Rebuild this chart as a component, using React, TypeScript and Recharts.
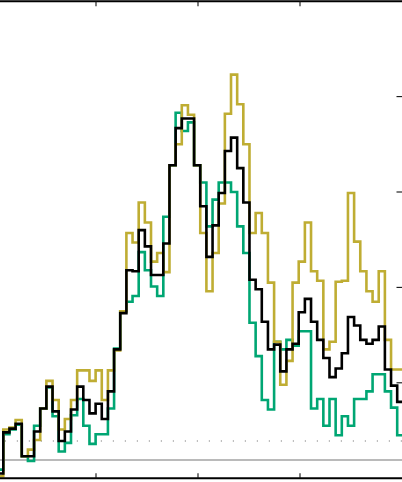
import { ComposedChart, Line, XAxis, YAxis, ReferenceLine } from 'recharts'

const OLIVE = '#BFAD33'
const BLACK = '#000000'
const GREEN = '#00A673'

// bins run left to right, first one starts just before the visible area
const BIN_START = 0.0308
const BIN_WIDTH = 0.06034

const oliveValues = [
  0.02, 0.51, 0.53, 0.61, 0.23, 0.3, 0.4, 0.73, 1.02, 0.82,
  0.51, 0.62, 0.82, 1.13, 1.13, 1.02, 1.13, 0.82, 1.13, 1.34,
  1.75, 2.57, 2.47, 2.89, 2.68, 2.27, 2.36, 2.16, 3.28, 3.5,
  3.91, 3.81, 3.28, 2.57, 1.96, 2.36, 2.88, 3.82, 4.23, 3.92,
  3.5, 2.57, 2.78, 2.57, 2.05, 1.43, 0.98, 1.23, 2.05, 2.27,
  2.68, 2.17, 2.07, 1.35, 1.43, 2.06, 2.07, 2.99, 2.48, 2.17,
  1.96, 1.85, 2.17, 1.45, 1.14, 1.14,
]

const blackValues = [
  0.05, 0.48, 0.52, 0.57, 0.23, 0.23, 0.49, 0.73, 0.96, 0.7,
  0.39, 0.49, 0.72, 0.96, 0.82, 0.68, 0.78, 0.62, 0.91, 1.35,
  1.73, 2.18, 2.17, 2.6, 2.43, 2.13, 2.13, 2.46, 3.28, 3.67,
  3.77, 3.77, 3.28, 2.85, 2.32, 2.65, 2.99, 3.43, 3.57, 3.25,
  2.89, 2.08, 1.98, 1.64, 1.35, 1.4, 1.12, 1.35, 1.41, 1.74,
  1.88, 1.64, 1.45, 1.26, 1.06, 1.15, 1.31, 1.69, 1.6, 1.45,
  1.41, 1.45, 1.59, 1.14, 0.97, 0.8,
]

const greenValues = [
  0.09, 0.46, 0.51, 0.56, 0.23, 0.18, 0.55, 0.73, 0.95, 0.65,
  0.28, 0.37, 0.66, 0.83, 0.55, 0.36, 0.46, 0.46, 0.73, 1.36,
  1.75, 1.85, 1.91, 2.37, 2.18, 2.01, 1.91, 2.74, 3.28, 3.83,
  3.64, 3.73, 3.28, 3.1, 2.64, 2.92, 3.1, 3.1, 3.0, 2.64,
  2.36, 1.63, 1.28, 0.82, 0.72, 1.43, 1.35, 1.45, 1.39, 1.54,
  1.54, 0.73, 0.83, 0.55, 0.83, 0.45, 0.65, 0.55, 0.83, 0.83,
  0.91, 1.09, 1.09, 0.91, 0.74, 0.45,
]

const xTicks = [1, 2, 3]
const yTicks = [1, 2, 3, 4]
const GRAY_LEVEL = 0.19
const DOTTED_LEVEL = 0.39

const last = oliveValues.length - 1
const rows = oliveValues.map((v, i) => ({
  x: BIN_START + i * BIN_WIDTH,
  olive: v,
  black: blackValues[i],
  green: greenValues[i],
}))
// closing edge for the last step
rows.push({
  x: BIN_START + oliveValues.length * BIN_WIDTH,
  olive: oliveValues[last],
  black: blackValues[last],
  green: greenValues[last],
})

const TopTick = (props: any) => (
  <line x1={props.x} x2={props.x} y1={props.y} y2={props.y + 5} stroke="#111" strokeWidth={1.1} />
)
const BottomTick = (props: any) => (
  <line x1={props.x} x2={props.x} y1={props.y} y2={props.y - 5} stroke="#111" strokeWidth={1.1} />
)
const RightTick = (props: any) => (
  <line x1={props.x} x2={props.x - 5.5} y1={props.y} y2={props.y} stroke="#111" strokeWidth={1.1} />
)

export default function App() {
  return (
    <div style={{ position: 'absolute', left: -6, top: 0, width: 409, height: 482 }}>
      <ComposedChart
        width={409}
        height={482}
        data={rows}
        margin={{ top: 0.2, right: 0, bottom: 2.8, left: 0 }}
      >
        <XAxis
          dataKey="x"
          type="number"
          domain={[0, 4]}
          allowDataOverflow
          ticks={xTicks}
          interval={0}
          height={1}
          tickSize={0}
          tickMargin={0}
          tick={BottomTick}
          axisLine={{ stroke: '#000', strokeWidth: 2 }}
          tickLine={false}
        />
        <XAxis
          xAxisId="top"
          orientation="top"
          dataKey="x"
          type="number"
          domain={[0, 4]}
          allowDataOverflow
          ticks={xTicks}
          interval={0}
          height={1}
          tickSize={0}
          tickMargin={0}
          tick={TopTick}
          axisLine={{ stroke: '#000', strokeWidth: 2 }}
          tickLine={false}
        />
        <YAxis
          orientation="right"
          type="number"
          domain={[0, 5]}
          allowDataOverflow
          ticks={yTicks}
          interval={0}
          width={1}
          tickSize={0}
          tickMargin={0}
          tick={RightTick}
          axisLine={false}
          tickLine={false}
        />
        <ReferenceLine y={GRAY_LEVEL} stroke="#a3a3a3" strokeWidth={1.5} />
        <ReferenceLine
          y={DOTTED_LEVEL}
          stroke="#808080"
          strokeWidth={1.2}
          strokeDasharray="1.2 10.8"
        />
        <Line
          type="stepAfter"
          dataKey="green"
          stroke={GREEN}
          strokeWidth={2.6}
          dot={false}
          activeDot={false}
          isAnimationActive={false}
        />
        <Line
          type="stepAfter"
          dataKey="olive"
          stroke={OLIVE}
          strokeWidth={2.6}
          dot={false}
          activeDot={false}
          isAnimationActive={false}
        />
        <Line
          type="stepAfter"
          dataKey="black"
          stroke={BLACK}
          strokeWidth={2.6}
          dot={false}
          activeDot={false}
          isAnimationActive={false}
        />
      </ComposedChart>
    </div>
  )
}
